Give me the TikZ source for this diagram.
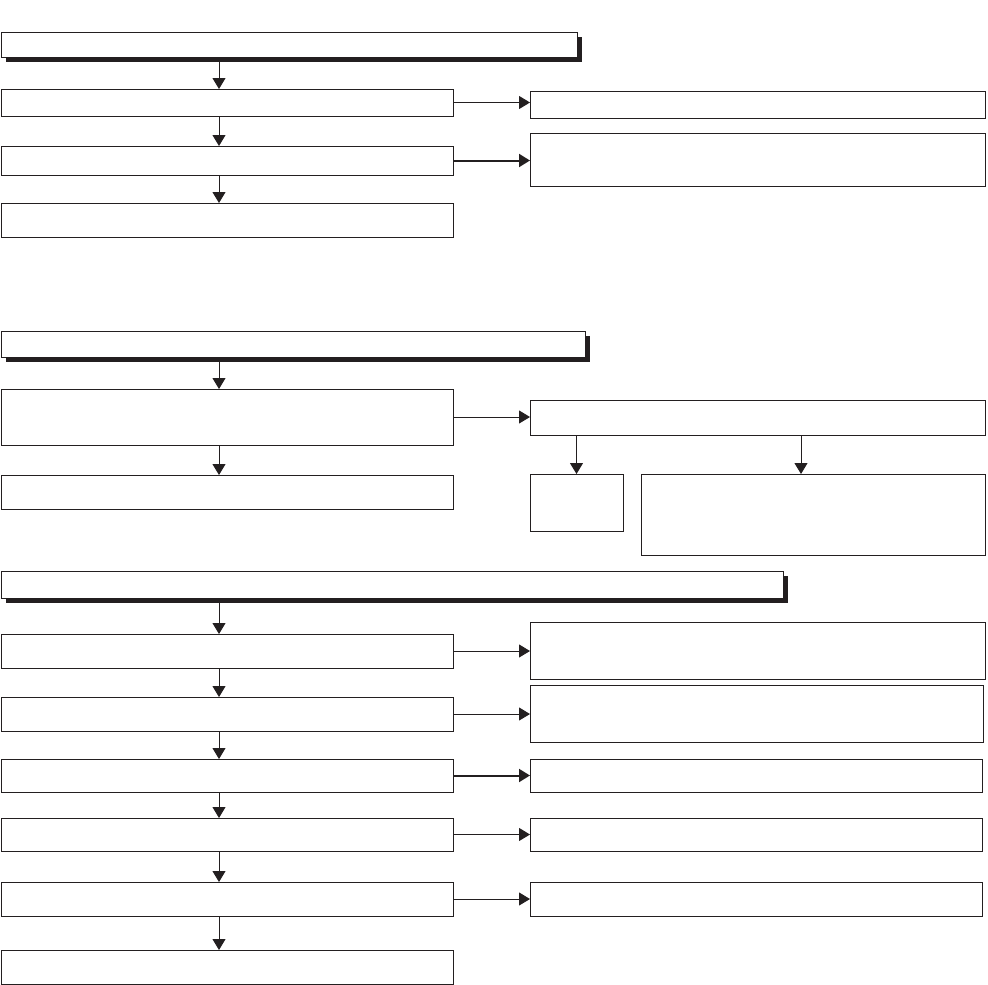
\documentclass[tikz,border=0pt]{standalone}
\usetikzlibrary{arrows.meta,shadows}
\definecolor{ink}{HTML}{231F20}

\begin{document}
\begin{tikzpicture}[
  x=1pt, y=-1pt,
  box/.style={draw=ink, fill=white, line width=1pt, inner sep=0pt, outer sep=0pt,
              minimum width=#1},
  box/.default=452pt,
  hdr/.style={box=#1, drop shadow={shadow xshift=5pt, shadow yshift=-4.5pt,
              fill=ink, opacity=1}},
  ar/.style={-{Triangle[length=11pt, width=13pt]}, draw=ink, line width=1pt},
  arb/.style={ar, line width=2pt},
]
\useasboundingbox (0,0) rectangle (988,985);
\coordinate (spine) at (219,0);

%% ---------------- block 1 ----------------
\node[hdr=576pt, minimum height=25pt] (hd1) at (289,44.5) {};
\node[box, minimum height=27pt] (a1) at (227,102.5) {};
\node[box, minimum height=29pt] (a2) at (227,160.5) {};
\node[box, minimum height=34pt] (a3) at (227,220) {};
\node[box=455pt, minimum height=27pt] (r1) at (757.5,104.5) {};
\node[box=455pt, minimum height=53pt] (r2) at (757.5,159.5) {};

\draw[ar] (spine |- hd1.south) -- (spine |- a1.north);
\draw[ar] (spine |- a1.south) -- (spine |- a2.north);
\draw[ar] (spine |- a2.south) -- (spine |- a3.north);
\draw[ar]  (a1.east) -- (a1.east -| r1.west);
\draw[arb] (a2.east) -- (a2.east -| r2.west);

%% ---------------- block 2 ----------------
\node[hdr=584pt, minimum height=26pt] (hd2) at (293,344) {};
\node[box, minimum height=56pt] (b1) at (227,417) {};
\node[box, minimum height=34pt] (b2) at (227,492) {};
\node[box=455pt, minimum height=35pt] (r3) at (757.5,417.5) {};
\node[box=93pt, minimum height=57pt] (s1) at (576.5,502.5) {};
\node[box=344pt, minimum height=81pt] (s2) at (813,514.5) {};

\draw[ar] (spine |- hd2.south) -- (spine |- b1.north);
\draw[ar] (spine |- b1.south) -- (spine |- b2.north);
\draw[ar] (b1.east) -- (b1.east -| r3.west);
\draw[ar] (r3.south -| s1.north) -- (s1.north);
\draw[ar] ([xshift=-12pt]r3.south -| s2.north) -- ([xshift=-12pt]s2.north);

%% ---------------- block 3 ----------------
\node[hdr=782pt, minimum height=27pt] (hd3) at (392,584.5) {};
\node[box, minimum height=34pt] (c1) at (227,651) {};
\node[box, minimum height=34pt] (c2) at (227,714) {};
\node[box, minimum height=33pt] (c3) at (227,775.5) {};
\node[box, minimum height=33pt] (c4) at (227,834.5) {};
\node[box, minimum height=34pt] (c5) at (227,899) {};
\node[box, minimum height=34pt] (c6) at (227,967) {};
\node[box=455pt, minimum height=57pt] (d1) at (757.5,650.5) {};
\node[box=453pt, minimum height=57pt] (d2) at (756.5,713.5) {};
\node[box=452pt, minimum height=33pt] (d3) at (756,775.5) {};
\node[box=452pt, minimum height=33pt] (d4) at (756,834.5) {};
\node[box=452pt, minimum height=34pt] (d5) at (756,899) {};

\draw[ar] (spine |- hd3.south) -- (spine |- c1.north);
\foreach \u/\v in {c1/c2, c2/c3, c3/c4, c4/c5, c5/c6}
  \draw[ar] (spine |- \u.south) -- (spine |- \v.north);
\draw[ar]  (c1.east) -- (c1.east -| d1.west);
\draw[ar]  (c2.east) -- (c2.east -| d2.west);
\draw[arb] (c3.east) -- (c3.east -| d3.west);
\draw[ar]  (c4.east) -- (c4.east -| d4.west);
\draw[ar]  (c5.east) -- (c5.east -| d5.west);

\end{tikzpicture}
\end{document}
